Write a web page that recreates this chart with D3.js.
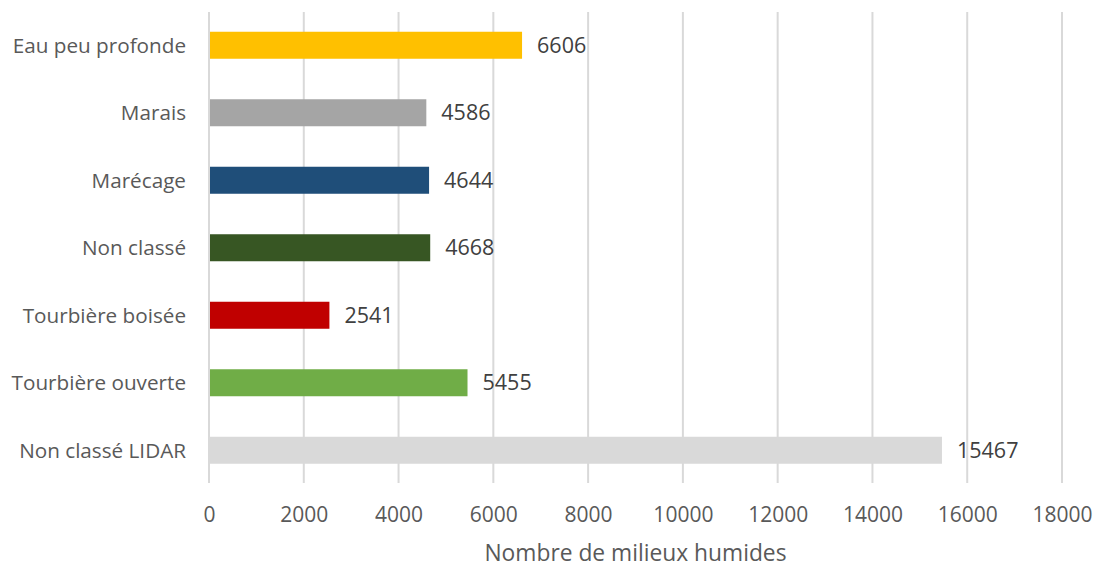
<!DOCTYPE html>
<html>
<head>
<meta charset="utf-8">
<script src="https://cdn.jsdelivr.net/npm/d3@7/dist/d3.min.js"></script>
<style>
  html, body { margin: 0; padding: 0; background: #fff; }
  svg { display: block; font-family: "Open Sans", "Noto Sans", sans-serif; }
</style>
</head>
<body>
<svg id="chart" width="1095" height="567"></svg>
<script>
// Wetland classes and counts
const categories = ["Eau peu profonde", "Marais", "Marécage", "Non classé", "Tourbière boisée", "Tourbière ouverte", "Non classé LIDAR"];
const counts = [6606, 4586, 4644, 4668, 2541, 5455, 15467];
const colors = ["#ffc000", "#a5a5a5", "#1f4e79", "#375623", "#c00000", "#70ad47", "#d9d9d9"];
const xTicks = [0, 2000, 4000, 6000, 8000, 10000, 12000, 14000, 16000, 18000];
const xTitle = "Nombre de milieux humides";

const svg = d3.select("#chart");
const margin = { left: 209, right: 33, top: 11.5, bottom: 83 };
const W = 1095, H = 567;

const x = d3.scaleLinear().domain([0, 18000]).range([margin.left, W - margin.right]);
const y = d3.scaleBand().domain(categories).range([margin.top, H - margin.bottom]).paddingInner(0.6).paddingOuter(0.3);

// vertical gridlines
svg.append("g").selectAll("line").data(xTicks).join("line")
  .attr("x1", d => x(d)).attr("x2", d => x(d))
  .attr("y1", 12).attr("y2", 483)
  .attr("stroke", "#d9d9d9").attr("stroke-width", 2);

// bars
svg.append("g").selectAll("rect").data(categories).join("rect")
  .attr("x", x(0) + 1)
  .attr("y", d => y(d))
  .attr("width", (d, i) => x(counts[i]) - x(0) - 1)
  .attr("height", y.bandwidth())
  .attr("fill", (d, i) => colors[i]);

// value labels
svg.append("g").selectAll("text").data(categories).join("text")
  .attr("x", (d, i) => x(counts[i]) + 15)
  .attr("y", d => y(d) + y.bandwidth() / 2)
  .attr("dy", "0.36em")
  .attr("font-size", 21.5)
  .attr("fill", "#404040")
  .text((d, i) => counts[i]);

// category labels
svg.append("g").selectAll("text").data(categories).join("text")
  .attr("x", 186)
  .attr("y", d => y(d) + y.bandwidth() / 2)
  .attr("dy", "0.36em")
  .attr("text-anchor", "end")
  .attr("font-size", 20.7)
  .attr("fill", "#595959")
  .text(d => d);

// x tick labels
const xAxis = d3.axisBottom(x).tickValues(xTicks).tickSize(0).tickPadding(0).tickFormat(d3.format("d"));
const gx = svg.append("g").attr("transform", "translate(0,507)").call(xAxis);
gx.select(".domain").remove();
gx.selectAll("text").attr("font-size", 21).attr("fill", "#595959").attr("font-family", "Open Sans, sans-serif");

// axis title
svg.append("text")
  .attr("x", (x(0) + x(18000)) / 2)
  .attr("y", 553)
  .attr("dy", "0.36em")
  .attr("text-anchor", "middle")
  .attr("font-size", 22.8)
  .attr("fill", "#595959")
  .text(xTitle);
</script>
</body>
</html>
